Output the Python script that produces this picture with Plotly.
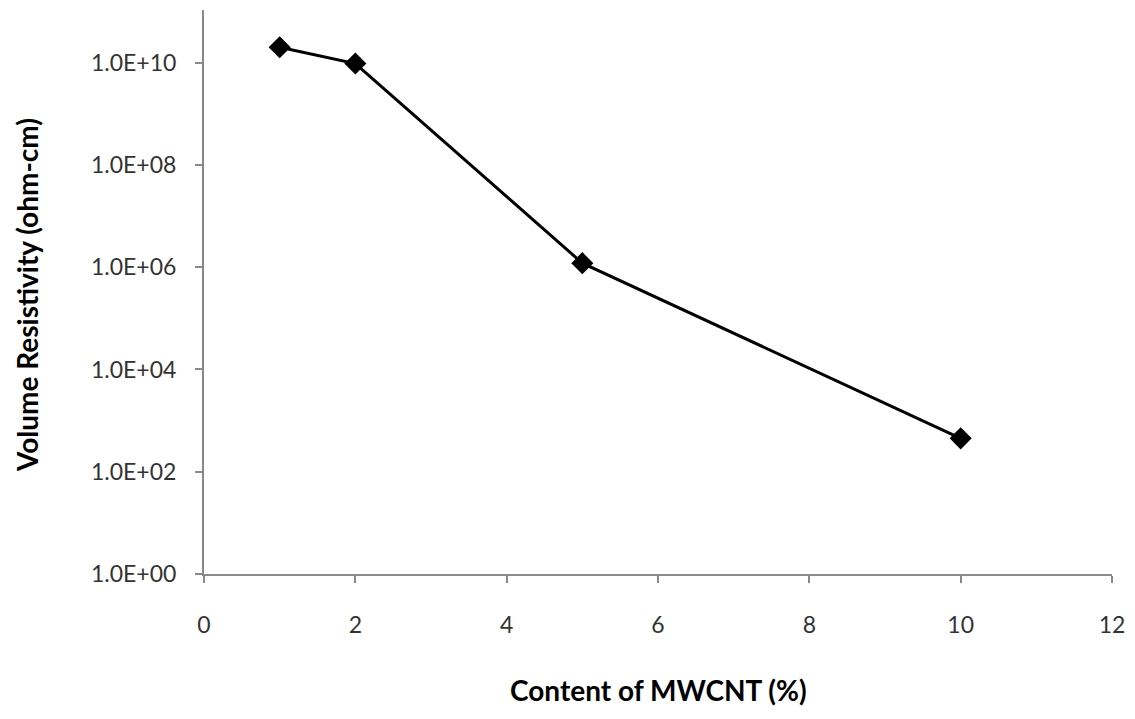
import plotly.graph_objects as go

content = [1, 2, 5, 10]
resistivity = [2.0e10, 9.6e9, 1.2e6, 4.5e2]
y_tickvals = [1e0, 1e2, 1e4, 1e6, 1e8, 1e10]
y_ticktext = ["1.0E+00", "1.0E+02", "1.0E+04", "1.0E+06", "1.0E+08", "1.0E+10"]
x_tickvals = [0, 2, 4, 6, 8, 10, 12]

FONT = "Lato"
# page has default 8px body margin; figure occupies 8..1127 x 8..711
W, H = 1119, 703
L, R, T, B = 196, 15, 2, 137

fig = go.Figure()
fig.add_trace(go.Scatter(
    x=content, y=resistivity, mode="lines+markers",
    line=dict(color="black", width=3),
    marker=dict(symbol="diamond", size=17, color="black"),
    showlegend=False,
))
axis_common = dict(
    showgrid=False, zeroline=False, showline=True, linecolor="#898989", linewidth=2,
    ticks="outside", ticklen=7, tickwidth=2, tickcolor="#898989",
    tickfont=dict(family=FONT, size=23, color="#333333"),
)
fig.update_xaxes(range=[0, 12], tickvals=x_tickvals, ticklabelstandoff=22, **axis_common)
fig.update_yaxes(type="log", range=[0, 11.03], tickvals=y_tickvals, ticktext=y_ticktext,
                 ticklabelstandoff=14, **axis_common)
pw = W - L - R
ph = H - T - B
fig.update_layout(
    width=W, height=H,
    margin=dict(l=L, r=R, t=T, b=B, autoexpand=False),
    plot_bgcolor="white", paper_bgcolor="white",
    annotations=[
        dict(text="<b>Content of MWCNT (%)</b>", x=0.5, y=(H - B - 682) / ph,
             xref="paper", yref="paper", showarrow=False,
             xanchor="center", yanchor="middle", borderpad=0,
             font=dict(family=FONT, size=28, color="black")),
        dict(text="<b>Volume Resistivity (ohm-cm)</b>", x=(19 - L) / pw, y=(H - B - 287) / ph,
             xref="paper", yref="paper", showarrow=False, textangle=-90,
             xanchor="center", yanchor="middle",
             font=dict(family=FONT, size=28, color="black")),
    ],
)
fig.write_html("out.html")
